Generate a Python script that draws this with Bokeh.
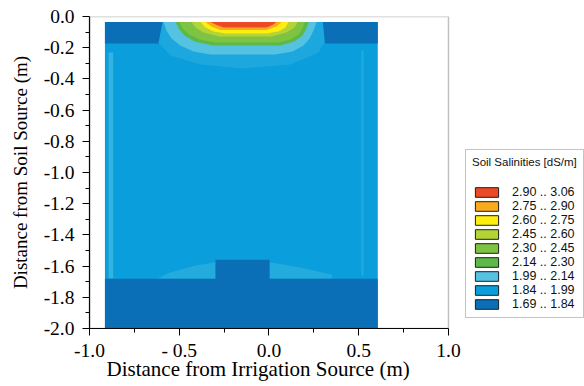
from bokeh.plotting import figure
from bokeh.models import (ColumnDataSource, Range1d, FixedTicker, CustomJSTickFormatter,
                          Legend, LegendItem, BoxAnnotation, Title)
from bokeh.transform import factor_cmap
from bokeh.embed import file_html
from bokeh.resources import INLINE

# ---------------- data ----------------
# salinity classes (dS/m), highest first as in the legend
class_labels = ["2.90 .. 3.06", "2.75 .. 2.90", "2.60 .. 2.75", "2.45 .. 2.60",
                "2.30 .. 2.45", "2.14 .. 2.30", "1.99 .. 2.14", "1.84 .. 1.99",
                "1.69 .. 1.84"]
class_colors = ["#ec4a26", "#f8ab1d", "#fdee0f", "#b4d337", "#7fc343", "#5cb947",
                "#55c2e2", "#0a9fdc", "#0b6fb7"]

x_ticks = [-1.0, -0.5, 0.0, 0.5, 1.0]
x_tick_labels = ["-1.0", "- 0.5", "0.0", "0.5", "1.0"]
x_minor_ticks = [-0.75, -0.25, 0.25, 0.75]
y_ticks = [0.0, -0.2, -0.4, -0.6, -0.8, -1.0, -1.2, -1.4, -1.6, -1.8, -2.0]
y_tick_labels = ["0.0", "-0.2", "-0.4", "-0.6", "-0.8", "-1.0", "-1.2", "-1.4",
                 "-1.6", "-1.8", "-2.0"]
y_minor_ticks = [-0.1, -0.3, -0.5, -0.7, -0.9, -1.1, -1.3, -1.5, -1.7, -1.9]

# contour regions (x, y in m)
domain_x = [-0.914, 0.606, 0.606, -0.914]
domain_y = [-0.035, -0.035, -2.0, -2.0]

halo_x = [-0.649, -0.627, -0.549, -0.382, -0.148, 0.120, 0.276, 0.331, 0.343]
halo_y = [-0.035, -0.154, -0.250, -0.308, -0.333, -0.308, -0.231, -0.122, -0.035]

left_strip_x = [-0.894, -0.868, -0.868, -0.894]
left_strip_y = [-0.23, -0.23, -1.68, -1.68]
right_strip_x = [0.515, 0.527, 0.527, 0.515]
right_strip_y = [-0.22, -0.22, -1.66, -1.66]

low_left_x = [-0.62, -0.298, -0.298, -0.42, -0.56]
low_left_y = [-1.681, -1.681, -1.575, -1.60, -1.645]
low_right_x = [0.003, 0.35, 0.35, 0.18, 0.003]
low_right_y = [-1.681, -1.681, -1.655, -1.61, -1.575]

top_dark_left_x = [-0.914, -0.593, -0.616, -0.914]
top_dark_left_y = [-0.035, -0.035, -0.173, -0.173]
top_dark_right_x = [0.300, 0.606, 0.606, 0.312]
top_dark_right_y = [-0.035, -0.035, -0.173, -0.173]

bottom_dark_x = [-0.914, -0.298, -0.298, 0.003, 0.003, 0.606, 0.606, -0.914]
bottom_dark_y = [-1.681, -1.681, -1.560, -1.560, -1.681, -1.681, -2.0, -2.0]

c199_x = [-0.588, -0.571, -0.543, -0.493, -0.421, -0.326,
          0.036, 0.131, 0.192, 0.226, 0.248, 0.265]
c199_y = [-0.035, -0.090, -0.141, -0.186, -0.224, -0.244,
          -0.244, -0.224, -0.186, -0.141, -0.090, -0.035]

c214_x = [-0.521, -0.504, -0.471, -0.415, -0.315, 0.064, 0.142, 0.187, 0.209, 0.220]
c214_y = [-0.035, -0.077, -0.122, -0.160, -0.186, -0.186, -0.160, -0.122, -0.077, -0.035]

c230_x = [-0.499, -0.482, -0.443, -0.387, -0.298, 0.047, 0.120, 0.164, 0.187, 0.198]
c230_y = [-0.035, -0.077, -0.115, -0.147, -0.167, -0.167, -0.147, -0.115, -0.077, -0.035]

c245_x = [-0.432, -0.409, -0.365, -0.276, 0.014, 0.097, 0.142, 0.159]
c245_y = [-0.035, -0.071, -0.103, -0.128, -0.128, -0.103, -0.071, -0.035]

c260_x = [-0.382, -0.354, -0.309, -0.242, -0.014, 0.053, 0.092, 0.109]
c260_y = [-0.035, -0.071, -0.096, -0.109, -0.109, -0.096, -0.071, -0.035]

c275_x = [-0.354, -0.320, -0.270, -0.014, 0.042, 0.070]
c275_y = [-0.035, -0.064, -0.087, -0.087, -0.064, -0.035]

c290_x = [-0.326, -0.292, -0.253, -0.014, 0.020, 0.042]
c290_y = [-0.035, -0.054, -0.071, -0.071, -0.054, -0.035]

# ---------------- table of regions (drawing order) ----------------
regions = [
    ("1.84 .. 1.99", domain_x, domain_y, 1.0),
    ("1.99 .. 2.14", halo_x, halo_y, 0.25),
    ("1.99 .. 2.14", left_strip_x, left_strip_y, 0.55),
    ("1.99 .. 2.14", right_strip_x, right_strip_y, 0.3),
    ("1.99 .. 2.14", low_left_x, low_left_y, 0.35),
    ("1.99 .. 2.14", low_right_x, low_right_y, 0.35),
    ("1.69 .. 1.84", top_dark_left_x, top_dark_left_y, 1.0),
    ("1.69 .. 1.84", top_dark_right_x, top_dark_right_y, 1.0),
    ("1.69 .. 1.84", bottom_dark_x, bottom_dark_y, 1.0),
    ("1.99 .. 2.14", c199_x, c199_y, 1.0),
    ("2.14 .. 2.30", c214_x, c214_y, 1.0),
    ("2.30 .. 2.45", c230_x, c230_y, 1.0),
    ("2.45 .. 2.60", c245_x, c245_y, 1.0),
    ("2.60 .. 2.75", c260_x, c260_y, 1.0),
    ("2.75 .. 2.90", c275_x, c275_y, 1.0),
    ("2.90 .. 3.06", c290_x, c290_y, 1.0),
]
source = ColumnDataSource(dict(
    cls=[r[0] for r in regions],
    xs=[r[1] for r in regions],
    ys=[r[2] for r in regions],
    alpha=[r[3] for r in regions],
))

# one region per class, used only for the legend swatches
first_region = {}
for r in regions:
    first_region.setdefault(r[0], r)
legend_source = ColumnDataSource(dict(
    cls=class_labels,
    xs=[first_region[c][1] for c in class_labels],
    ys=[first_region[c][2] for c in class_labels],
    color=class_colors,
))

# ---------------- figure ----------------
# x range continues to the right so the legend can sit beside the box
p = figure(width=584, height=386, output_backend="svg", toolbar_location=None,
           x_range=Range1d(-1.0, 1.7577), y_range=Range1d(-2.0, 0.0),
           min_border_left=89, min_border_right=0, min_border_top=16,
           min_border_bottom=58)
p.grid.visible = False
p.background_fill_color = "white"
p.outline_line_color = None

frame_box = BoxAnnotation(left=-1.0, right=1.0, bottom=-2.0, top=0.0,
                          fill_alpha=0.0, line_color="#333333", line_width=1.5)
p.add_layout(frame_box)

p.patches("xs", "ys", source=source,
          fill_color=factor_cmap("cls", palette=class_colors, factors=class_labels),
          fill_alpha="alpha", line_color=None)

legend_r = p.patches("xs", "ys", source=legend_source, fill_color="color",
                     line_color="#1e1e1e", line_width=1)
legend_r.visible = False

serif = "Liberation Serif"
for ax in (p.xaxis[0], p.yaxis[0]):
    ax.axis_line_color = "black"
    ax.axis_line_width = 1.2
    ax.major_tick_line_color = "black"
    ax.minor_tick_line_color = "black"
    ax.major_tick_in = 0
    ax.major_tick_out = 7
    ax.minor_tick_in = 0
    ax.minor_tick_out = 4
    ax.major_label_text_font = serif
    ax.major_label_text_font_size = "19.5px"
    ax.major_label_text_color = "black"
    ax.axis_label_text_font = serif
    ax.axis_label_text_font_style = "normal"
    ax.axis_label_text_color = "black"

p.xaxis.bounds = (-1.0, 1.0)
p.xaxis.ticker = FixedTicker(ticks=x_ticks, minor_ticks=x_minor_ticks)
p.yaxis.ticker = FixedTicker(ticks=y_ticks, minor_ticks=y_minor_ticks)
fmt_code = """
let found = -1;
for (let k = 0; k < tick_values.length; k++) {
  if (Math.abs(tick_values[k] - tick) < 1e-9) { found = k; }
}
return found >= 0 ? tick_texts[found] : "";
"""
p.xaxis.formatter = CustomJSTickFormatter(
    args=dict(tick_values=x_ticks, tick_texts=x_tick_labels), code=fmt_code)
p.yaxis.formatter = CustomJSTickFormatter(
    args=dict(tick_values=y_ticks, tick_texts=y_tick_labels), code=fmt_code)
p.yaxis.axis_label = "Distance from Soil Source (m)"
p.yaxis.axis_label_text_font_size = "19px"
p.xaxis.major_label_standoff = 4
p.yaxis.major_label_standoff = 8
p.yaxis.axis_label_standoff = 10

# x-axis title, centred under the -1 .. 1 box
x_title = Title(text="Distance from Irrigation Source (m)", align="left", offset=17,
                text_font=serif, text_font_size="21px", text_font_style="normal",
                text_color="black", standoff=-17)
p.add_layout(x_title, "below")

# ---------------- legend ----------------
items = [LegendItem(label=lab, renderers=[legend_r], index=i)
         for i, lab in enumerate(class_labels)]
legend = Legend(items=items, location=(376, 10), title="Soil Salinities [dS/m]",
                title_text_font="Liberation Sans", title_text_font_size="11.5px",
                title_text_font_style="normal", title_text_color="#111111",
                title_standoff=17,
                label_text_font="Liberation Sans", label_text_font_size="12.5px",
                label_text_color="#111111",
                glyph_width=29, glyph_height=12, label_height=14, label_standoff=11,
                spacing=0, padding=6, margin=0,
                border_line_color="#8a8a8a", border_line_width=1,
                background_fill_color="white", background_fill_alpha=1.0)
p.add_layout(legend)

open("out.html", "w").write(file_html(p, INLINE))
